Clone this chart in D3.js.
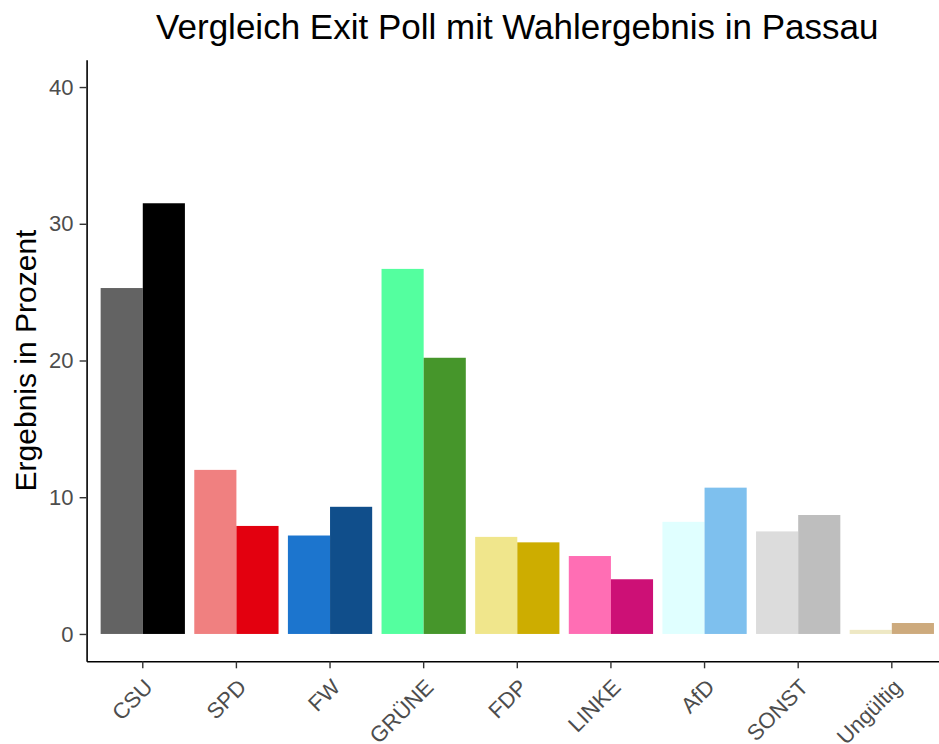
<!DOCTYPE html>
<html>
<head>
<meta charset="utf-8">
<script src="https://cdn.jsdelivr.net/npm/d3@7"></script>
<style>
  body { margin: 0; background: #fff; }
  svg { display: block; font-family: "Liberation Sans", Arial, sans-serif; }
  .axis .domain { stroke: #000; stroke-width: 1.6px; }
  .axis .tick line { stroke: #333; stroke-width: 1.4px; }
  .axis .tick text { fill: #4d4d4d; font-size: 22px; }
</style>
</head>
<body>
<script>
// party order as on the x axis
var parties = ["CSU", "SPD", "FW", "GRÜNE", "FDP", "LINKE", "AfD", "SONST", "Ungültig"];
// exit poll (left bar) and election result (right bar), in percent
var exitPoll  = [25.3, 12.0, 7.2, 26.7, 7.1, 5.7, 8.2, 7.5, 0.3];
var ergebnis  = [31.5, 7.9, 9.3, 20.2, 6.7, 4.0, 10.7, 8.7, 0.8];
var exitColors   = ["#636363", "#F08080", "#1C75CE", "#54FF9F", "#F0E68C", "#FF6EB4", "#E0FFFF", "#DCDCDC", "#EEE8C4"];
var resultColors = ["#000000", "#E3000F", "#104E8B", "#46962B", "#CDAD00", "#CD1076", "#7EC0EE", "#BEBEBE", "#CDAA7D"];
var yTicks = [0, 10, 20, 30, 40];

var W = 939, H = 744;
var panel = {left: 86.6, top: 59.7, bottom: 661.3};
var step = 93.63;
panel.right = panel.left + 9.2 * step;

var svg = d3.select("body").append("svg")
    .attr("width", W).attr("height", H);

var x = d3.scaleBand()
    .domain(parties)
    .range([panel.left, panel.right])
    .paddingInner(0.1)
    .paddingOuter(0.15);

var xSub = d3.scaleBand()
    .domain(["exit", "result"])
    .range([0, x.bandwidth()]);

var y = d3.scaleLinear()
    .domain([-2, 42])
    .range([panel.bottom, panel.top]);

// flatten into one row per bar
var bars = [];
parties.forEach(function(p, i){
	bars.push({party: p, key: "exit", value: exitPoll[i], color: exitColors[i]});
	bars.push({party: p, key: "result", value: ergebnis[i], color: resultColors[i]});
});

svg.append("g").selectAll("rect")
  .data(bars)
  .enter().append("rect")
    .attr("x", function(d){ return x(d.party) + xSub(d.key); })
    .attr("width", xSub.bandwidth())
    .attr("y", function(d){ return y(d.value); })
    .attr("height", function(d){ return y(0) - y(d.value); })
    .attr("fill", function(d){ return d.color; });

// y axis
var gy = svg.append("g")
    .attr("class", "axis")
    .attr("transform", "translate(" + panel.left + ",0)")
    .call(d3.axisLeft(y).tickValues(yTicks).tickSize(7).tickSizeOuter(0).tickPadding(6));

// x axis
var gx = svg.append("g")
    .attr("class", "axis")
    .attr("transform", "translate(0," + panel.bottom + ")")
    .call(d3.axisBottom(x).tickSize(7).tickSizeOuter(0));

gx.selectAll(".tick text")
    .attr("text-anchor", "end")
    .attr("dy", null)
    .attr("y", null)
    .attr("transform", "translate(0,16) rotate(-45)")
    .attr("dominant-baseline", "hanging");

// y axis title
svg.append("text")
    .attr("transform", "translate(36," + ((panel.top + panel.bottom) / 2) + ") rotate(-90)")
    .attr("text-anchor", "middle")
    .style("font-size", "30px")
    .attr("fill", "#000")
    .text("Ergebnis in Prozent");

// title
svg.append("text")
    .attr("x", (panel.left + panel.right) / 2)
    .attr("y", 39)
    .attr("text-anchor", "middle")
    .style("font-size", "35px")
    .attr("fill", "#000")
    .text("Vergleich Exit Poll mit Wahlergebnis in Passau");
</script>
</body>
</html>
